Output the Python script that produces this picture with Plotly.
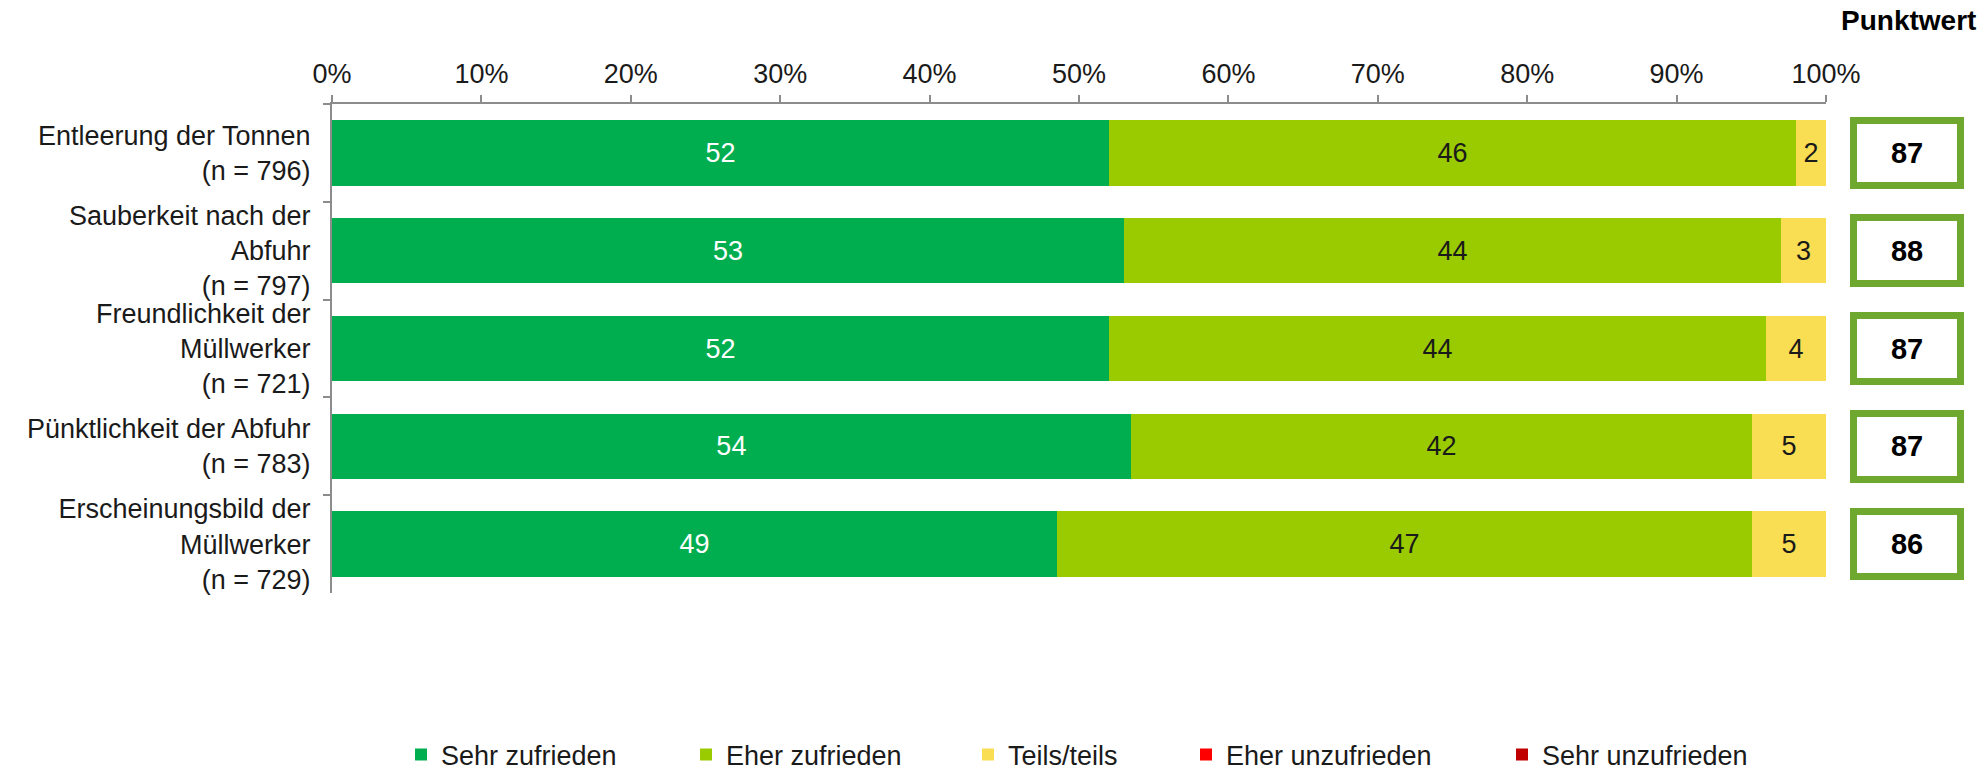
import plotly.graph_objects as go

# Survey items (y-axis categories, top to bottom)
categories = [
    "Entleerung der Tonnen<br>(n = 796)",
    "Sauberkeit nach der<br>Abfuhr<br>(n = 797)",
    "Freundlichkeit der<br>Müllwerker<br>(n = 721)",
    "Pünktlichkeit der Abfuhr<br>(n = 783)",
    "Erscheinungsbild der<br>Müllwerker<br>(n = 729)",
]

# Answer shares per item (percent, rounded)
sehr_zufrieden = [52, 53, 52, 54, 49]
eher_zufrieden = [46, 44, 44, 42, 47]
teils_teils = [2, 3, 4, 5, 5]
eher_unzufrieden = [0, 0, 0, 0, 0]
sehr_unzufrieden = [0, 0, 0, 0, 0]

# Score per item
punktwert = [87, 88, 87, 87, 86]

x_tick_values = [0, 10, 20, 30, 40, 50, 60, 70, 80, 90, 100]
x_tick_labels = ["0%", "10%", "20%", "30%", "40%", "50%", "60%", "70%", "80%", "90%", "100%"]

series = [
    ("Sehr zufrieden", sehr_zufrieden, "#00AE4F", "white"),
    ("Eher zufrieden", eher_zufrieden, "#99CB00", "#1a1a1a"),
    ("Teils/teils", teils_teils, "#F9DD52", "#1a1a1a"),
    ("Eher unzufrieden", eher_unzufrieden, "#FF0000", "#1a1a1a"),
    ("Sehr unzufrieden", sehr_unzufrieden, "#C00000", "white"),
]

FONT = "Liberation Sans, Arial, sans-serif"
FS = 27
W, H = 1988, 772
ML, MR, MT, MB = 332, 0, 104, 179
PW = W - ML - MR
PH = H - MT - MB

def px_x(px):
    return (px - ML) / PW

def px_y(py):
    return (H - MB - py) / PH

# legend placements (one legend per answer category)
legend_x = [417, 702, 984, 1202, 1518]
legend_y = px_y(755)

fig = go.Figure()

for i, (name, vals, color, tcolor) in enumerate(series):
    lg = "legend" if i == 0 else f"legend{i + 1}"
    fig.add_trace(go.Bar(
        name=name,
        y=categories,
        x=vals,
        orientation="h",
        marker=dict(color=color, line=dict(width=0)),
        text=[str(v) if v > 0 else "" for v in vals],
        texttemplate="%{text}",
        textposition="inside",
        insidetextanchor="middle",
        textangle=0,
        insidetextfont=dict(family=FONT, size=FS, color=tcolor),
        legend=lg,
        xaxis="x",
        yaxis="y",
    ))

# score boxes on a separate narrow axis; range padded so the frame is not clipped
box_left, box_right = 1846, 1968
fig.add_trace(go.Bar(
    y=categories,
    x=[100] * len(punktwert),
    orientation="h",
    marker=dict(color="white", line=dict(color="#6EA82E", width=7)),
    text=[f"<b>{v}</b>" for v in punktwert],
    texttemplate="%{text}",
    textposition="inside",
    insidetextanchor="middle",
    textangle=0,
    insidetextfont=dict(family=FONT, size=29, color="black"),
    showlegend=False,
    xaxis="x2",
    yaxis="y",
    hoverinfo="skip",
))

legend_common = dict(
    orientation="h",
    yanchor="middle",
    xanchor="left",
    font=dict(family=FONT, size=FS, color="#1a1a1a"),
    bgcolor="rgba(0,0,0,0)",
    itemwidth=30,
)

layout_legends = {}
for i, lx in enumerate(legend_x):
    key = "legend" if i == 0 else f"legend{i + 1}"
    layout_legends[key] = dict(legend_common, x=px_x(lx - 16), y=legend_y)

fig.update_layout(
    width=W,
    height=H,
    margin=dict(l=ML, r=MR, t=MT, b=MB, pad=0, autoexpand=False),
    paper_bgcolor="white",
    plot_bgcolor="white",
    barmode="stack",
    barnorm="percent",
    bargap=0.33,
    font=dict(family=FONT, size=FS, color="#1a1a1a"),
    xaxis=dict(
        domain=[0, (1826 - ML) / PW],
        range=[0, 100],
        side="top",
        tickmode="array",
        tickvals=x_tick_values,
        ticktext=x_tick_labels,
        ticks="outside",
        ticklen=7,
        tickwidth=1.5,
        tickcolor="#8C8C8C",
        showline=True,
        linecolor="#8C8C8C",
        linewidth=2,
        showgrid=False,
        zeroline=False,
        ticklabelstandoff=1,
        tickfont=dict(family=FONT, size=FS, color="#1a1a1a"),
        fixedrange=True,
    ),
    xaxis2=dict(
        domain=[px_x(box_left), px_x(box_right)],
        range=[-7, 107],
        visible=False,
        fixedrange=True,
    ),
    yaxis=dict(
        autorange="reversed",
        tickson="boundaries",
        ticks="outside",
        ticklen=7,
        tickwidth=1.5,
        tickcolor="#8C8C8C",
        showline=True,
        linecolor="#8C8C8C",
        linewidth=2,
        showgrid=False,
        zeroline=False,
        ticklabelstandoff=14,
        tickfont=dict(family=FONT, size=FS, color="#1a1a1a"),
        fixedrange=True,
    ),
    annotations=[
        dict(
            text="<b>Punktwert</b>",
            xref="paper",
            yref="paper",
            x=px_x(1978),
            y=px_y(21),
            xanchor="right",
            yanchor="middle",
            showarrow=False,
            font=dict(family=FONT, size=28, color="black"),
        )
    ],
    **layout_legends,
)

fig.write_html("out.html")
